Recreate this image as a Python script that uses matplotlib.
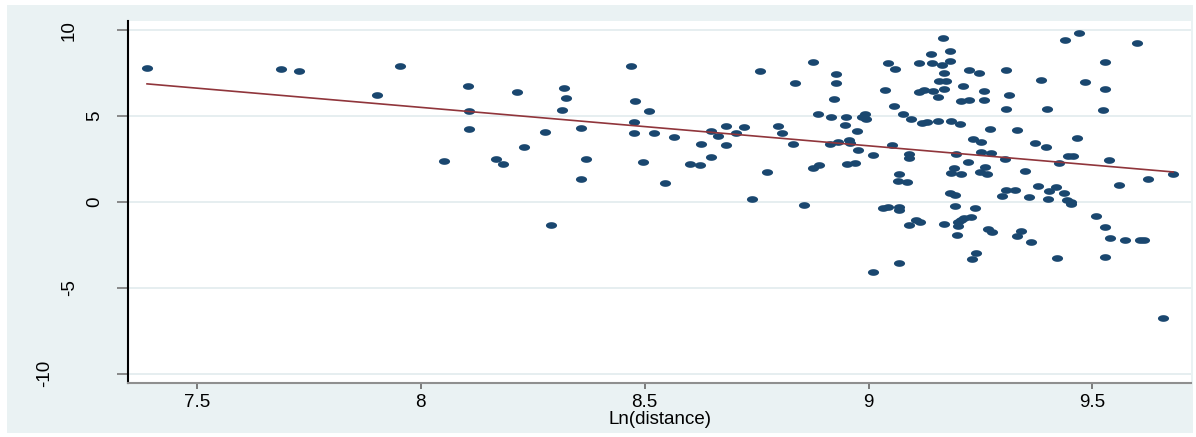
import numpy as np
import matplotlib
matplotlib.use("Agg")
import matplotlib.pyplot as plt
import matplotlib.transforms as mtransforms
from matplotlib.path import Path
from matplotlib.patches import Rectangle

plt.rcParams['font.family'] = ['Liberation Sans', 'DejaVu Sans']
plt.rcParams['axes.unicode_minus'] = False

# Ln(distance) vs y
ln_dist = [
    7.389, 7.689, 7.729, 7.902, 7.953,
    8.051, 8.106, 8.109, 8.109, 8.169, 8.184, 8.214, 8.231, 8.278, 8.291,
    8.320, 8.325, 8.316, 8.357, 8.369, 8.357, 8.469, 8.478, 8.476, 8.477,
    8.510, 8.520, 8.496, 8.545, 8.565, 8.601, 8.623, 8.627, 8.648, 8.649,
    8.664, 8.681, 8.681, 8.705, 8.721, 8.739, 8.757, 8.773, 8.798, 8.807,
    8.832, 8.836, 8.856, 8.877, 8.888, 8.875, 8.890, 8.927, 8.928, 8.923,
    8.917, 8.949, 8.947, 8.914, 8.931, 8.957, 8.958, 8.953, 8.969,
    8.975, 8.977, 8.985, 8.992, 8.994, 9.009, 9.037, 9.044, 9.058, 9.056,
    9.078, 9.094, 9.120, 9.131, 9.156, 9.052, 9.090, 9.090, 9.069, 9.065,
    9.086, 9.113, 9.140, 9.142, 9.163, 9.167, 9.169, 9.157, 9.174, 9.168,
    9.112, 9.124, 9.145, 9.154, 9.182, 9.183,
    9.033, 9.043, 9.068, 9.068, 9.105, 9.115, 9.091, 9.169, 9.067, 9.009,
    9.225, 9.247, 9.307, 9.384, 9.210, 9.257, 9.207, 9.224, 9.257, 9.313,
    9.307, 9.185, 9.204, 9.272, 9.332, 9.234, 9.250, 9.371, 9.195, 9.252,
    9.273, 9.304, 9.222, 9.191, 9.185, 9.206, 9.261, 9.248, 9.265, 9.349,
    9.378, 9.182, 9.194, 9.308, 9.327, 9.298, 9.358, 9.194, 9.237,
    9.207, 9.214, 9.229, 9.200, 9.200, 9.197, 9.267, 9.276, 9.341, 9.332,
    9.363, 9.240, 9.232,
    9.471, 9.439, 9.599, 9.527, 9.483, 9.527, 9.399, 9.524, 9.396, 9.466,
    9.445, 9.456, 9.425, 9.536, 9.680, 9.625, 9.559, 9.419, 9.403, 9.436,
    9.401, 9.443, 9.451, 9.451,
    9.508, 9.528, 9.540, 9.572, 9.606, 9.614, 9.420, 9.528, 9.658,
]
yvals = [
    7.80, 7.72, 7.60, 6.21, 7.90,
    2.39, 6.75, 5.32, 4.25, 2.50, 2.21, 6.40, 3.18, 4.07, -1.34,
    6.65, 6.07, 5.36, 4.33, 2.50, 1.32, 7.92, 5.90, 4.66, 4.02,
    5.28, 4.03, 2.31, 1.10, 3.77, 2.21, 2.17, 3.38, 2.62, 4.13,
    3.86, 4.41, 3.32, 4.02, 4.37, 0.17, 7.61, 1.76, 4.41, 4.02,
    3.38, 6.91, -0.16, 8.17, 5.12, 1.98, 2.17, 7.45, 6.95, 5.98,
    4.97, 4.97, 4.48, 3.38, 3.49, 3.61, 3.43, 2.19, 2.25,
    4.11, 3.03, 4.97, 5.12, 4.85, 2.76, 6.50, 8.11, 7.72, 5.59,
    5.10, 4.81, 4.58, 4.64, 4.73, 3.30, 2.81, 2.58, 1.63, 1.20,
    1.15, 8.11, 8.63, 8.07, 7.97, 9.56, 7.53, 7.06, 7.06, 6.60,
    6.42, 6.55, 6.46, 6.13, 8.79, 8.21,
    -0.33, -0.27, -0.31, -0.47, -1.03, -1.15, -1.32, -1.30, -3.57, -4.07,
    7.66, 7.49, 7.70, 7.08, 6.75, 6.46, 5.88, 5.96, 5.96, 6.25,
    5.43, 4.70, 4.52, 4.23, 4.17, 3.65, 3.51, 3.42, 2.79, 2.91,
    2.83, 2.50, 2.33, 1.96, 1.67, 1.61, 2.04, 1.75, 1.63, 1.82,
    0.93, 0.51, 0.39, 0.68, 0.68, 0.37, 0.31, -0.23, -0.37,
    -1.05, -0.95, -0.89, -1.18, -1.38, -1.94, -1.57, -1.77, -1.71, -1.98,
    -2.33, -2.95, -3.34,
    9.86, 9.43, 9.25, 8.15, 6.97, 6.60, 5.41, 5.36, 3.22, 3.71,
    2.70, 2.66, 2.29, 2.44, 1.65, 1.34, 0.99, 0.86, 0.62, 0.52,
    0.16, 0.12, 0.02, -0.12,
    -0.81, -1.46, -2.11, -2.21, -2.21, -2.21, -3.28, -3.22, -6.73,
]

xticks = [7.5, 8, 8.5, 9, 9.5]
xticklabels = ['7.5', '8', '8.5', '9', '9.5']
yticks = [-10, -5, 0, 5, 10]
yticklabels = ['-10', '-5', '0', '5', '10']

x = np.array(ln_dist)
y = np.array(yvals)

# linear fit like Stata's lfit
b, a = np.polyfit(x, y, 1)
xfit = np.array([x.min(), x.max()])
yfit = a + b * xfit

W, H = 1196, 437
fig = plt.figure(figsize=(W / 100, H / 100), dpi=100, facecolor='white')
fig.add_artist(Rectangle((7 / W, 1 - 433 / H), (1193 - 7) / W, (433 - 5) / H,
                         transform=fig.transFigure, facecolor='#eaf2f3',
                         edgecolor='none', zorder=0))

ax = fig.add_axes([128 / W, 1 - 383 / H, (1191 - 128) / W, (383 - 21) / H])
ax.set_facecolor('white')

# elliptic dots (the picture is stretched sideways)
t = np.linspace(0, 2 * np.pi, 41)
ell = Path(np.column_stack([np.cos(t), 0.6 * np.sin(t)]), closed=True)

ax.plot(x, y, linestyle='none', marker=ell, markersize=8,
        markerfacecolor='#1a476f', markeredgewidth=0, zorder=3)
ax.plot(xfit, yfit, color='#90353b', linewidth=1.2, zorder=4)

ax.set_xlim(7.3465, 9.72)
ax.set_ylim(-10.54, 10.54)
ax.set_xticks(xticks)
ax.set_xticklabels(xticklabels)
ax.set_yticks(yticks)
ax.set_yticklabels(yticklabels, rotation=90, va='center', ha='right')

ax.grid(axis='y', color='#e6eef0', linewidth=1.4)
ax.set_axisbelow(True)
for s in ['top', 'right']:
    ax.spines[s].set_visible(False)
ax.spines['left'].set_color('black')
ax.spines['left'].set_linewidth(1.5)
ax.spines['bottom'].set_color('#8f8f8f')
ax.spines['bottom'].set_linewidth(1.5)

ax.tick_params(axis='x', length=4, width=1.2, color='#666666', pad=4, labelsize=13.5)
ax.tick_params(axis='y', length=8, width=1.2, color='#777777', pad=10, labelsize=13.5)
ax.set_xlabel('Ln(distance)', fontsize=13.5, labelpad=0)

# y labels drift left with their length, as in the picture
for lab in ax.get_yticklabels():
    n = len(lab.get_text())
    lab.set_transform(lab.get_transform() +
                      mtransforms.ScaledTranslation(-0.25 * (n - 1), 0, fig.dpi_scale_trans))

fig.savefig('out.png', dpi=100, facecolor='white')
